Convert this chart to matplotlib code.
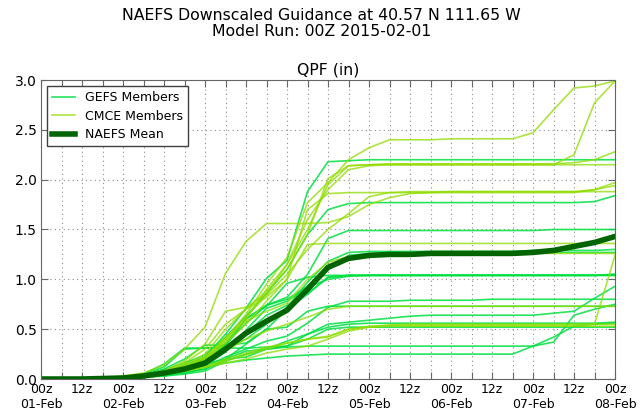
import numpy as np
import matplotlib
matplotlib.use("Agg")
import matplotlib.pyplot as plt

# forecast hours from 00z 01-Feb, every 6 h
hours = np.arange(0, 169, 6)

# GEFS members (QPF, inches)
gefs = [
    [0, 0, 0, 0.01, 0.02, 0.03, 0.06, 0.14, 0.22, 0.45, 0.71, 1.01, 1.19, 1.88, 2.18, 2.19,
     2.20, 2.20, 2.20, 2.20, 2.20, 2.20, 2.20, 2.20, 2.20, 2.20, 2.20, 2.20, 2.20],
    [0, 0, 0, 0.01, 0.02, 0.04, 0.09, 0.16, 0.24, 0.42, 0.63, 0.86, 1.10, 1.45, 1.70, 1.76,
     1.77, 1.77, 1.77, 1.77, 1.77, 1.77, 1.77, 1.77, 1.77, 1.77, 1.77, 1.78, 1.84],
    [0, 0, 0, 0.01, 0.01, 0.03, 0.06, 0.11, 0.18, 0.35, 0.56, 0.74, 0.82, 1.05, 1.41, 1.49,
     1.49, 1.49, 1.49, 1.49, 1.49, 1.49, 1.49, 1.49, 1.49, 1.50, 1.50, 1.50, 1.50],
    [0, 0, 0, 0.01, 0.02, 0.05, 0.12, 0.30, 0.31, 0.32, 0.40, 0.55, 0.72, 0.97, 1.18, 1.27,
     1.28, 1.28, 1.28, 1.28, 1.28, 1.28, 1.28, 1.28, 1.29, 1.29, 1.29, 1.29, 1.30],
    [0, 0, 0, 0.01, 0.02, 0.03, 0.05, 0.12, 0.20, 0.36, 0.61, 0.74, 0.80, 0.93, 1.10, 1.24,
     1.26, 1.26, 1.26, 1.26, 1.26, 1.26, 1.26, 1.26, 1.27, 1.27, 1.27, 1.27, 1.27],
    [0, 0, 0, 0.01, 0.01, 0.02, 0.04, 0.10, 0.16, 0.30, 0.46, 0.64, 0.74, 0.86, 1.02, 1.04,
     1.04, 1.04, 1.04, 1.04, 1.04, 1.04, 1.04, 1.04, 1.04, 1.04, 1.04, 1.04, 1.05],
    [0, 0, 0, 0, 0.01, 0.02, 0.05, 0.09, 0.13, 0.27, 0.49, 0.71, 0.78, 0.92, 1.00, 1.03,
     1.04, 1.04, 1.04, 1.04, 1.04, 1.04, 1.04, 1.04, 1.04, 1.04, 1.04, 1.04, 1.04],
    [0, 0, 0, 0, 0.01, 0.02, 0.04, 0.10, 0.20, 0.33, 0.60, 0.73, 0.96, 1.02, 1.04,
     1.04, 1.04, 1.04, 1.04, 1.04, 1.04, 1.04, 1.04, 1.04, 1.04, 1.04, 1.04, 1.04, 1.05],
    [0, 0, 0, 0, 0.01, 0.02, 0.04, 0.08, 0.12, 0.22, 0.30, 0.38, 0.43, 0.56, 0.72,
     0.78, 0.78, 0.78, 0.79, 0.79, 0.79, 0.79, 0.80, 0.80, 0.80, 0.80, 0.80, 0.80, 0.80],
    [0, 0, 0, 0, 0.01, 0.02, 0.03, 0.06, 0.10, 0.20, 0.35, 0.50, 0.52, 0.68, 0.73,
     0.73, 0.73, 0.73, 0.73, 0.73, 0.73, 0.73, 0.73, 0.73, 0.73, 0.73, 0.73, 0.73, 0.73],
    [0, 0, 0, 0, 0.01, 0.02, 0.03, 0.05, 0.08, 0.18, 0.25, 0.30, 0.33, 0.45, 0.55,
     0.57, 0.59, 0.61, 0.63, 0.64, 0.64, 0.64, 0.64, 0.64, 0.64, 0.66, 0.68, 0.81, 0.93],
    [0, 0, 0, 0, 0.01, 0.02, 0.04, 0.07, 0.10, 0.20, 0.22, 0.30, 0.38, 0.45, 0.52, 0.55,
     0.56, 0.56, 0.56, 0.56, 0.56, 0.56, 0.56, 0.56, 0.56, 0.56, 0.56, 0.56, 0.57],
    [0, 0, 0, 0, 0.01, 0.02, 0.05, 0.10, 0.15, 0.20, 0.28, 0.30, 0.32, 0.33,
     0.33, 0.33, 0.33, 0.33, 0.33, 0.33, 0.33, 0.33, 0.33, 0.33, 0.33, 0.37, 0.64, 0.70, 0.75],
    [0, 0, 0, 0, 0.01, 0.02, 0.04, 0.08, 0.12, 0.16, 0.19, 0.21, 0.23, 0.24,
     0.25, 0.25, 0.25, 0.25, 0.25, 0.25, 0.25, 0.25, 0.25, 0.25, 0.33, 0.42, 0.53, 0.55, 0.56],
    [0, 0, 0, 0.01, 0.02, 0.05, 0.15, 0.31, 0.31, 0.31, 0.31, 0.32, 0.33, 0.40, 0.50, 0.52,
     0.52, 0.52, 0.52, 0.52, 0.52, 0.52, 0.52, 0.52, 0.52, 0.52, 0.52, 0.52, 0.52],
    [0, 0, 0, 0.01, 0.02, 0.04, 0.10, 0.20, 0.34, 0.34, 0.36, 0.50, 0.70, 0.85, 1.02, 1.04,
     1.04, 1.04, 1.04, 1.04, 1.04, 1.04, 1.04, 1.04, 1.04, 1.04, 1.04, 1.04, 1.04],
]

# CMCE members (QPF, inches)
cmce = [
    [0, 0, 0.01, 0.01, 0.02, 0.04, 0.07, 0.12, 0.20, 0.40, 0.65, 0.95, 1.22, 1.77, 1.97,
     2.20, 2.32, 2.40, 2.40, 2.40, 2.41, 2.41, 2.41, 2.41, 2.47, 2.70, 2.92, 2.94, 2.99],
    [0, 0, 0.01, 0.01, 0.02, 0.03, 0.06, 0.10, 0.18, 0.38, 0.60, 0.90, 1.15, 1.50, 1.95, 2.14,
     2.15, 2.15, 2.15, 2.15, 2.15, 2.15, 2.15, 2.15, 2.15, 2.15, 2.25, 2.77, 2.99],
    [0, 0, 0.01, 0.01, 0.02, 0.04, 0.08, 0.14, 0.25, 0.50, 0.70, 0.88, 1.10, 1.45, 2.01, 2.14, 2.15,
     2.16, 2.16, 2.16, 2.16, 2.16, 2.16, 2.16, 2.16, 2.16, 2.17, 2.20, 2.28],
    [0, 0, 0.01, 0.01, 0.02, 0.03, 0.06, 0.11, 0.19, 0.36, 0.55, 0.78, 1.00, 1.70, 1.86, 1.87,
     1.87, 1.87, 1.87, 1.87, 1.87, 1.87, 1.87, 1.87, 1.87, 1.87, 1.87, 1.90, 1.97],
    [0, 0, 0.01, 0.01, 0.02, 0.03, 0.07, 0.13, 0.22, 0.40, 0.62, 0.84, 1.05, 1.30, 1.50, 1.66,
     1.83, 1.87, 1.88, 1.88, 1.88, 1.88, 1.88, 1.88, 1.88, 1.88, 1.88, 1.90, 1.94],
    [0, 0, 0.01, 0.01, 0.03, 0.06, 0.14, 0.30, 0.52, 1.06, 1.38, 1.56, 1.56, 1.56, 1.57, 1.63,
     1.75, 1.82, 1.86, 1.87, 1.88, 1.88, 1.88, 1.88, 1.88, 1.88, 1.88, 1.88, 1.88],
    [0, 0, 0.01, 0.01, 0.02, 0.04, 0.08, 0.16, 0.30, 0.55, 0.70, 0.82, 1.00, 1.35, 1.36,
     1.36, 1.36, 1.36, 1.36, 1.36, 1.36, 1.36, 1.36, 1.36, 1.36, 1.36, 1.36, 1.36, 1.36],
    [0, 0, 0.01, 0.01, 0.02, 0.04, 0.07, 0.12, 0.22, 0.42, 0.58, 0.68, 0.76, 1.00, 1.17, 1.23,
     1.25, 1.25, 1.26, 1.26, 1.26, 1.26, 1.26, 1.26, 1.26, 1.26, 1.26, 1.26, 1.26],
    [0, 0, 0.01, 0.01, 0.02, 0.03, 0.05, 0.08, 0.12, 0.18, 0.24, 0.30, 0.36, 0.40, 0.42, 0.50, 0.53,
     0.54, 0.54, 0.54, 0.54, 0.54, 0.54, 0.54, 0.54, 0.54, 0.54, 0.55, 1.24],
    [0, 0, 0.01, 0.01, 0.02, 0.03, 0.06, 0.10, 0.15, 0.28, 0.40, 0.48, 0.55, 0.62, 0.70, 0.73,
     0.73, 0.73, 0.73, 0.73, 0.73, 0.73, 0.73, 0.73, 0.73, 0.73, 0.73, 0.73, 0.73],
    [0, 0, 0.01, 0.01, 0.02, 0.03, 0.05, 0.08, 0.12, 0.20, 0.26, 0.32, 0.36, 0.40, 0.43, 0.50, 0.52,
     0.53, 0.53, 0.53, 0.53, 0.53, 0.53, 0.53, 0.53, 0.53, 0.53, 0.53, 0.53],
    [0, 0, 0.01, 0.01, 0.02, 0.04, 0.08, 0.18, 0.35, 0.68, 0.72, 0.85, 1.15, 1.60, 1.90, 2.10,
     2.14, 2.15, 2.15, 2.15, 2.15, 2.15, 2.15, 2.15, 2.15, 2.15, 2.15, 2.15, 2.15],
    [0, 0, 0.01, 0.01, 0.02, 0.03, 0.05, 0.08, 0.12, 0.16, 0.20, 0.26, 0.30, 0.33, 0.40, 0.48,
     0.52, 0.54, 0.55, 0.55, 0.55, 0.55, 0.55, 0.55, 0.55, 0.55, 0.55, 0.55, 0.55],
]

naefs_mean = [0, 0, 0, 0.005, 0.01, 0.03, 0.06, 0.10, 0.16, 0.30, 0.46, 0.58, 0.69, 0.90, 1.12,
              1.21, 1.24, 1.25, 1.25, 1.26, 1.26, 1.26, 1.26, 1.26, 1.27, 1.29, 1.33, 1.37, 1.43]

# tick labels: 00z with date, 12z alone, blank at 06/18z
tick_labels = []
for h in hours:
    if h % 24 == 0:
        tick_labels.append("00z\n%02d-Feb" % (1 + h // 24))
    elif h % 12 == 0:
        tick_labels.append("12z")
    else:
        tick_labels.append("")

fig = plt.figure(figsize=(6.43, 4.15), dpi=100)
ax = fig.add_axes([41 / 643, 36 / 415, 574 / 643, 299 / 415])

for i, m in enumerate(gefs):
    ax.plot(hours, m, color="#00e040", lw=1.2, alpha=0.85,
            label="GEFS Members" if i == 0 else None)
for i, m in enumerate(cmce):
    ax.plot(hours, m, color="#8fdc00", lw=1.2, alpha=0.75,
            label="CMCE Members" if i == 0 else None)
ax.plot(hours, naefs_mean, color="#006400", lw=4, label="NAEFS Mean")

ax.set_xlim(0, 168)
ax.set_ylim(0, 3.0)
ax.set_xticks(hours)
ax.set_xticklabels(tick_labels, fontsize=9)
ax.set_yticks(np.arange(0, 3.01, 0.5))
ax.set_yticklabels(["%.1f" % v for v in np.arange(0, 3.01, 0.5)], fontsize=10)
ax.tick_params(direction="in", top=True, right=True, length=5, color="0.4", pad=3)
ax.grid(True, linestyle=(0, (1, 3)), color="0.55", linewidth=0.8)
for s in ax.spines.values():
    s.set_color("0.4")

ax.set_title("QPF (in)", fontsize=11.3, pad=4)
fig.text(0.5, 1 - 15 / 415, "NAEFS Downscaled Guidance at 40.57 N 111.65 W",
         ha="center", va="center", fontsize=11.3)
fig.text(0.5, 1 - 32 / 415, "Model Run: 00Z 2015-02-01",
         ha="center", va="center", fontsize=11.3)

leg = ax.legend(loc="upper left", fontsize=9, fancybox=False, framealpha=1,
                handlelength=1.8, labelspacing=0.45, borderaxespad=0.5)
leg.get_frame().set_edgecolor("0.25")

fig.savefig("out.png", dpi=100)
